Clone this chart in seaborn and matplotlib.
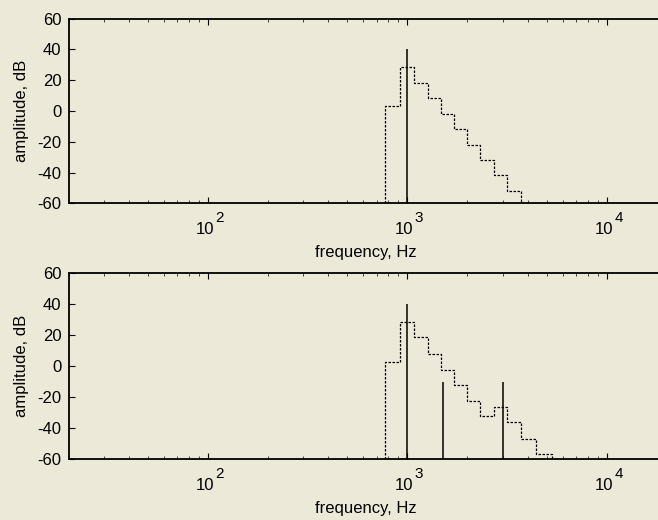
import numpy as np
import pandas as pd
import matplotlib
matplotlib.use("Agg")
import matplotlib.pyplot as plt
import seaborn as sns
from matplotlib.ticker import FixedLocator, LogLocator, NullFormatter

# ---- data ----
band_edges_top = [770, 770, 920, 1080, 1270, 1480, 1720, 2000, 2320, 2700, 3150, 3700]
levels_top = [-60, 3.3, 28.5, 18.5, 8.5, -1.7, -11.8, -21.8, -31.8, -41.8, -51.8, -60]
tones_top_f = [1000]
tones_top_db = [40]

band_edges_bot = [770, 770, 920, 1080, 1270, 1480, 1720, 2000, 2320, 2700, 3150, 3700, 4400, 5300]
levels_bot = [-60, 3.0, 28.8, 18.6, 8.0, -2.3, -12.4, -22.3, -32.3, -26.3, -36.3, -46.8, -56.8, -60]
tones_bot_f = [1000, 1500, 3000]
tones_bot_db = [40, -10, -10]

x_ticks = [100, 1000, 10000]
x_tick_base = ["10", "10", "10"]
x_tick_exp = ["2", "3", "4"]
y_ticks = [-60, -40, -20, 0, 20, 40, 60]

BG = "#ECE9D8"
sns.set_style("ticks")
plt.rcParams["font.family"] = ["Liberation Sans", "DejaVu Sans"]

fig = plt.figure(figsize=(6.58, 5.2), dpi=100, facecolor=BG)
W, H = 658, 520
left = 68.5 / W
width = (667 - 68.5) / W
ax1 = fig.add_axes([left, 1 - 203.5 / H, width, (203.5 - 18.7) / H])
ax2 = fig.add_axes([left, 1 - 459 / H, width, (459 - 273.3) / H])

panels = [
    (ax1, band_edges_top, levels_top, tones_top_f, tones_top_db),
    (ax2, band_edges_bot, levels_bot, tones_bot_f, tones_bot_db),
]
for ax, fx, ly, tf, tdb in panels:
    ax.set_facecolor(BG)
    df = pd.DataFrame({"f": fx, "db": ly})
    sns.lineplot(data=df, x="f", y="db", ax=ax, sort=False, estimator=None,
                 drawstyle="steps-post", color="black", linewidth=0.9,
                 linestyle=(0, (2, 1.2)))
    ax.vlines(tf, -60, tdb, colors="black", linewidth=1.1)
    ax.set_xscale("log")
    ax.set_xlim(20, 20000)
    ax.set_ylim(-60, 60)
    ax.xaxis.set_major_locator(FixedLocator(x_ticks))
    ax.xaxis.set_major_formatter(NullFormatter())
    ax.xaxis.set_minor_locator(LogLocator(base=10, subs=np.arange(2, 10), numticks=20))
    ax.xaxis.set_minor_formatter(NullFormatter())
    ax.set_yticks(y_ticks)
    ax.set_yticklabels([str(v) for v in y_ticks])
    ax.tick_params(axis="both", which="major", direction="in", length=4.5, width=0.8,
                   labelsize=12, color="black", labelcolor="black")
    ax.tick_params(axis="x", which="major", top=True, bottom=True)
    ax.tick_params(axis="x", which="minor", direction="in", length=2.2, width=0.6,
                   top=True, bottom=True)
    ax.tick_params(axis="y", which="major", left=True, right=False, pad=5)
    for s in ax.spines.values():
        s.set_color("black")
        s.set_linewidth(1.3)
    # x tick labels: "10" with a large exponent, as in the reference
    for xt, b, e in zip(x_ticks, x_tick_base, x_tick_exp):
        ax.annotate(b, xy=(xt, 0), xycoords=("data", "axes fraction"),
                    xytext=(4.2, -22.2), textcoords="offset points",
                    ha="right", va="baseline", fontsize=12, color="black")
        ax.annotate(e, xy=(xt, 0), xycoords=("data", "axes fraction"),
                    xytext=(5.4, -13.5), textcoords="offset points",
                    ha="left", va="baseline", fontsize=11, color="black")
    ax.set_xlabel("frequency, Hz", fontsize=12, color="black")
    ax.set_ylabel("amplitude, dB", fontsize=12, color="black")
    ax.grid(False)

for ax in (ax1, ax2):
    h_px = ax.get_position().height * H
    ax.xaxis.label.set_va("baseline")
    ax.xaxis.set_label_coords(0.497, -54.0 / h_px)
    ax.yaxis.set_label_coords(-0.066, 0.5)

fig.savefig("out.png", dpi=100, facecolor=BG)
